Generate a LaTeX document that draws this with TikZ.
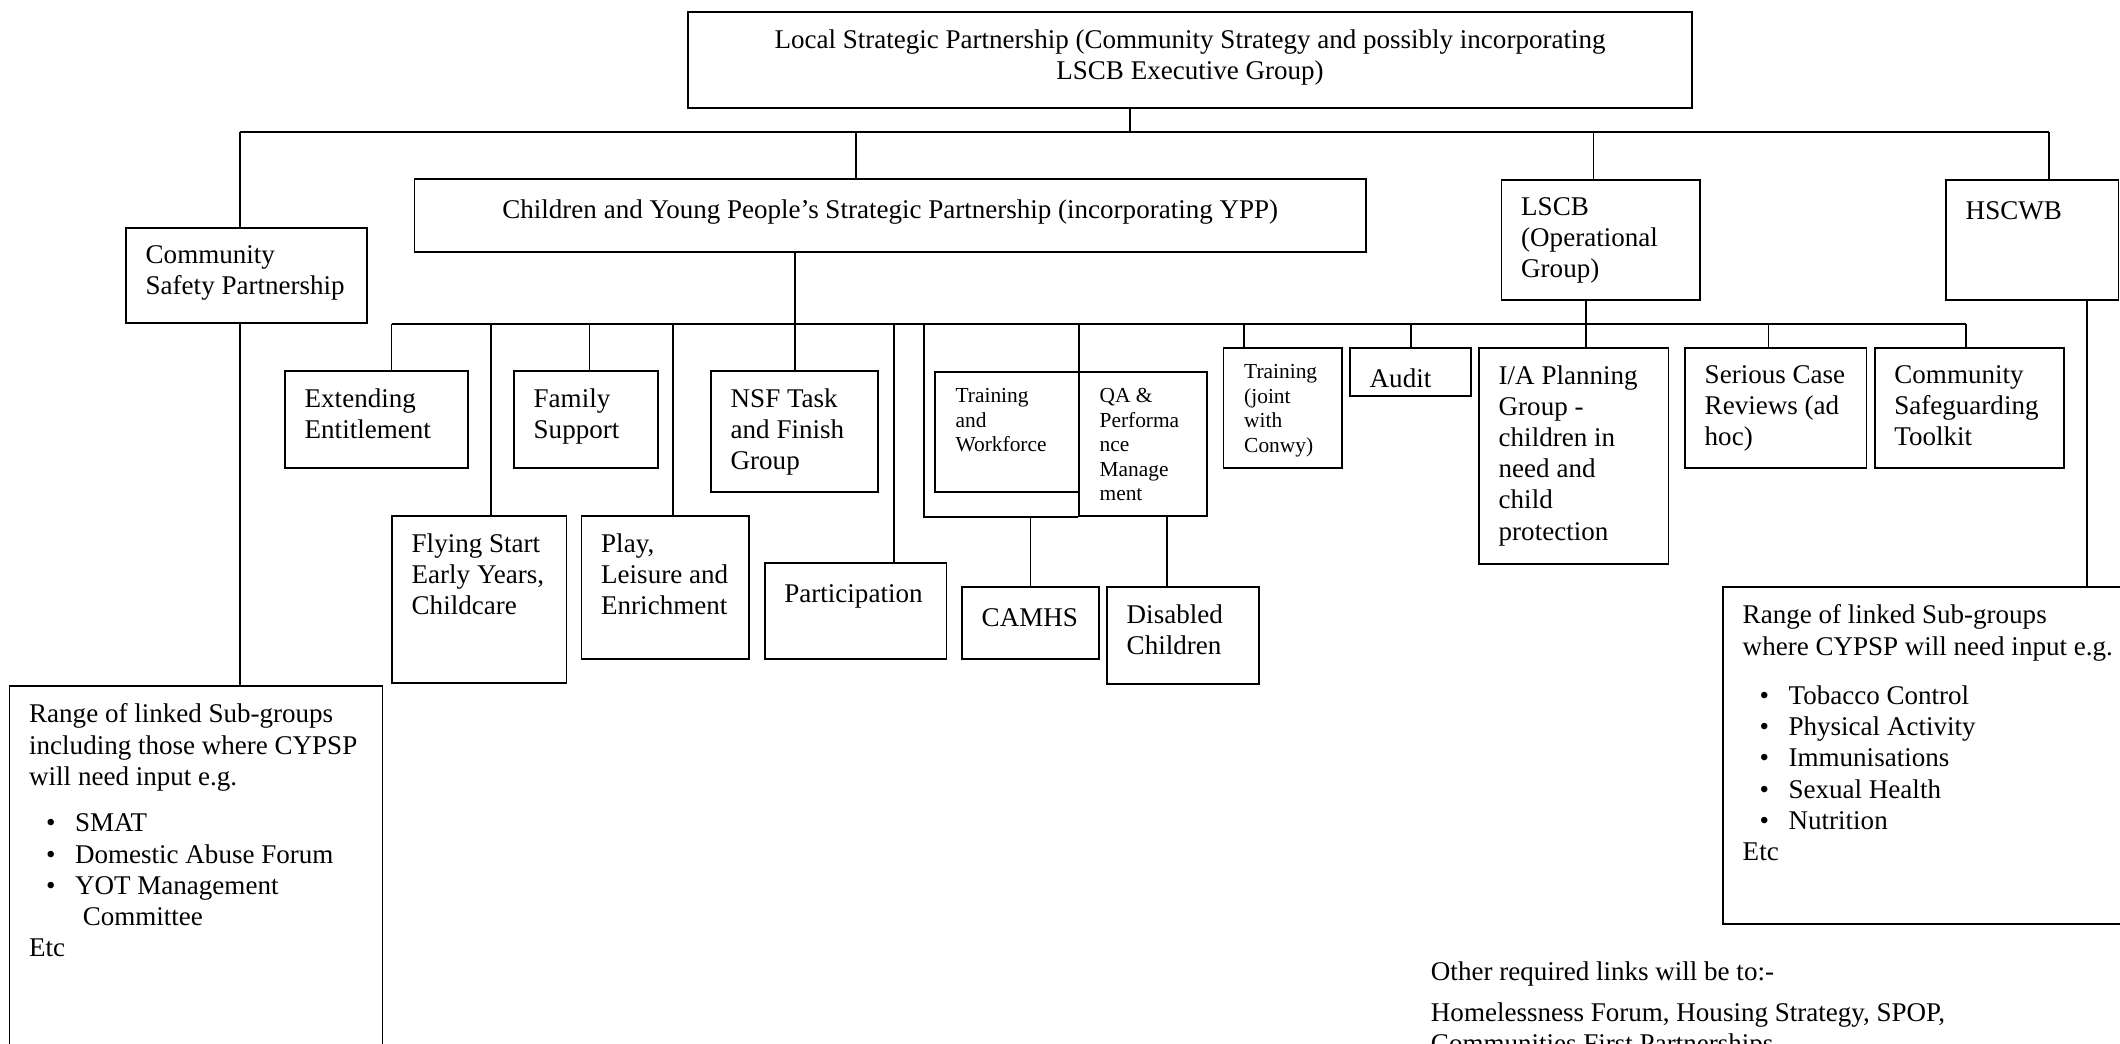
\documentclass[tikz,border=0pt]{standalone}
\usepackage{fontspec}
\setmainfont{Liberation Serif}
\usepackage{tikz}
\usetikzlibrary{fit}

\newcommand{\normtext}{\fontsize{12}{13.8}\selectfont}
\newcommand{\smalltext}{\fontsize{9.5}{10.9}\selectfont}
\newcommand{\itm}[1]{\hspace*{7.5pt}\makebox[12.9pt][l]{\textbullet}#1}

\begin{document}
\begin{tikzpicture}[
  x=0.444pt, y=-0.444pt,
  box/.style={draw, line width=0.7pt, inner sep=0pt},
  txtbase/.style={inner sep=0pt, align=left, font=\normtext, execute at begin node=\strut},
  txt/.style={txtbase, anchor=north west, xshift=8.9pt, yshift=-8.1pt},
  ctxt/.style={txtbase, align=center, anchor=north, yshift=-8.1pt},
  stxt/.style={txtbase, font=\smalltext, anchor=north west, xshift=9.3pt, yshift=-7.5pt},
  link/.style={line width=0.65pt}
]
\useasboundingbox (0,0) rectangle (2120,1044);
\clip (0,0) rectangle (2120,1044);

% top level
\node[box, fit={(688,12) (1692,108)}, label={[ctxt]north:{Local Strategic Partnership (Community Strategy and possibly incorporating\\LSCB Executive Group)}}] (lsp) {};
\node[box, fit={(126,228) (367,323)}, label={[txt]north west:{Community\\Safety Partnership}}] (csp) {};
\node[box, fit={(414.5,179) (1366,252)}, label={[ctxt]north:{Children and Young People’s Strategic Partnership (incorporating YPP)}}] (cypsp) {};
\node[box, fit={(1501.5,180) (1700,300)}, label={[txt]north west:{LSCB\\(Operational\\Group)}}] (lscb) {};
\node[box, fit={(1946,180) (2118.5,300)}, label={[txt]north west:{HSCWB}}] (hscwb) {};

% CYPSP groups
\node[box, fit={(285,371) (468,468)}, label={[txt]north west:{Extending\\Entitlement}}] (ext) {};
\node[box, fit={(514,371) (658,468)}, label={[txt]north west:{Family\\Support}}] (fam) {};
\node[box, fit={(711,371) (878,492)}, label={[txt]north west:{NSF Task\\and Finish\\Group}}] (nsf) {};
\node[box, fit={(935,372) (1079,492)}, label={[stxt]north west:{Training\\and\\Workforce}}] (trw) {};
\node[box, fit={(1079,372) (1207,516)}, label={[stxt]north west:{QA \&\\Performa\\nce\\Manage\\ment}}] (qa) {};
\node[box, fit={(392,516) (566.6,683)}, label={[txt]north west:{Flying Start\\Early Years,\\Childcare}}] (fly) {};
\node[box, fit={(581.5,516) (749,659)}, label={[txt]north west:{Play,\\Leisure and\\Enrichment}}] (play) {};
\node[box, fit={(764.7,563) (946.6,659)}, label={[txt]north west:{Participation}}] (part) {};
\node[box, fit={(962,587) (1099,659)}, label={[txt]north west:{CAMHS}}] (camhs) {};
\node[box, fit={(1107,587) (1259,684)}, label={[txt]north west:{Disabled\\Children}}] (dis) {};

% LSCB groups
\node[box, fit={(1223.6,348) (1342,468)}, label={[stxt]north west:{Training\\(joint\\with\\Conwy)}}] (trc) {};
\node[box, fit={(1350,348) (1471,396)}, label={[txt]north west:{Audit}}] (aud) {};
\node[box, fit={(1479,348) (1668.5,564)}, label={[txt]north west:{I/A Planning\\Group -\\children in\\need and\\child\\protection}}] (iap) {};
\node[box, fit={(1685,348) (1866.6,468)}, label={[txt]north west:{Serious Case\\Reviews (ad\\hoc)}}] (scr) {};
\node[box, fit={(1874.7,348) (2064,468)}, label={[txt]north west:{Community\\Safeguarding\\Toolkit}}] (cst) {};

% linked sub-groups
\node[box, fit={(9.5,686) (382.7,1100)}, label={[txt]north west:{Range of linked Sub-groups\\including those where CYPSP\\will need input e.g.\\[7pt]\itm{SMAT}\\\itm{Domestic Abuse Forum}\\\itm{YOT Management}\\\hspace*{23.8pt}Committee\\Etc}}] (csub) {};
\node[box, fit={(1723,587) (2160,924)}, label={[txt]north west:{Range of linked Sub-groups\\where CYPSP will need input e.g.\\[8.3pt]\itm{Tobacco Control}\\\itm{Physical Activity}\\\itm{Immunisations}\\\itm{Sexual Health}\\\itm{Nutrition}\\Etc}}] (hsub) {};
\node[txtbase, anchor=north west] (links) at (1430.5,961) {Other required links will be to:-\\[4.5pt]Homelessness Forum, Housing Strategy, SPOP,\\Communities First Partnerships};

% bus junctions
\coordinate (tlsp) at (1130,132);
\coordinate (tcsp) at (240,132);
\coordinate (tcyp) at (856,132);
\coordinate (tlscb) at (1593.5,132);
\coordinate (thsc) at (2049,132);
\coordinate (bext) at (391.5,324);
\coordinate (bfly) at (491,324);
\coordinate (bfam) at (589.6,324);
\coordinate (bplay) at (673,324);
\coordinate (bnsf) at (795,324);
\coordinate (bpart) at (894,324);
\coordinate (bwrap) at (924,324);
\coordinate (bqa) at (1079,324);
\coordinate (btrc) at (1244,324);
\coordinate (baud) at (1411,324);
\coordinate (biap) at (1586,324);
\coordinate (bscr) at (1768.6,324);
\coordinate (bcst) at (1966,324);
\coordinate (qdis) at (1167,0);
\coordinate (hdown) at (2087,0);

\draw[link] (lsp.south -| tlsp) -- (tlsp);
\draw[link] (tcsp) -- (thsc);
\foreach \j/\n in {tcsp/csp, tcyp/cypsp, tlscb/lscb, thsc/hscwb}
  \draw[link] (\j) -- (\j |- \n.north);
\draw[link] (bext) -- (bcst);
\draw[link] (cypsp.south -| bnsf) -- (bnsf);
\draw[link] (lscb.south -| biap) -- (biap);
\foreach \j/\n in {bext/ext, bfly/fly, bfam/fam, bplay/play, bnsf/nsf, bpart/part, bqa/qa, btrc/trc, baud/aud, biap/iap, bscr/scr, bcst/cst}
  \draw[link] (\j) -- (\j |- \n.north);
\draw[link] (bwrap) |- (qa.south west);
\draw[link] (camhs.north |- qa.south) -- (camhs.north);
\draw[link] (qa.south -| qdis) -- (qdis |- dis.north);
\draw[link] (csp.south -| tcsp) -- (tcsp |- csub.north);
\draw[link] (hscwb.south -| hdown) -- (hdown |- hsub.north);
\end{tikzpicture}
\end{document}
